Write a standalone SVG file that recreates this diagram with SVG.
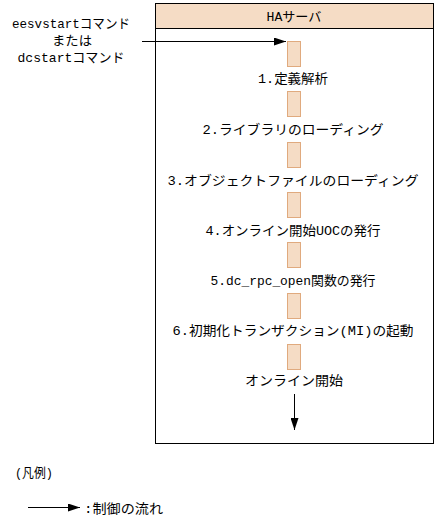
<svg xmlns="http://www.w3.org/2000/svg" width="436" height="524" viewBox="0 0 436 524">
<defs>
<style>
text{font-family:"Liberation Mono","Noto Sans CJK JP",monospace;font-size:13px;fill:#000}
.c{text-anchor:middle}
.box{fill:#fff;stroke:#000;stroke-width:1}
.hdr{fill:#F5DCC5;stroke:#000;stroke-width:1}
.act{fill:#F5DCC5;stroke:#E0AA7E;stroke-width:1}
.ln{stroke:#000;stroke-width:1;fill:none}
</style>
<marker id="ah" markerWidth="12" markerHeight="8" refX="12" refY="4" orient="auto" markerUnits="userSpaceOnUse">
<path d="M0,0 L12,4 L0,8 z" fill="#000"/>
</marker>
</defs>
<g id="server">
<rect class="box" x="155.5" y="3.5" width="278" height="440"/>
<rect class="hdr" x="155.5" y="3.5" width="278" height="25"/>
<text class="c" x="294" y="21" textLength="55" lengthAdjust="spacingAndGlyphs">HAサーバ</text>
</g>
<g id="cmd">
<text class="c" x="71" y="28" textLength="118" lengthAdjust="spacingAndGlyphs">eesvstartコマンド</text>
<text class="c" x="72" y="45" textLength="40" lengthAdjust="spacingAndGlyphs">または</text>
<text class="c" x="71" y="62" textLength="107" lengthAdjust="spacingAndGlyphs">dcstartコマンド</text>
</g>
<g id="step1"><rect class="act" x="287.5" y="41.5" width="13" height="25"/><text class="c" x="293" y="83" textLength="70" lengthAdjust="spacingAndGlyphs">1.定義解析</text></g>
<g id="step2"><rect class="act" x="287.5" y="91.5" width="13" height="25"/><text class="c" x="293" y="134" textLength="181" lengthAdjust="spacingAndGlyphs">2.ライブラリのローディング</text></g>
<g id="step3"><rect class="act" x="287.5" y="142.5" width="13" height="25"/><text class="c" x="293" y="185" textLength="251" lengthAdjust="spacingAndGlyphs">3.オブジェクトファイルのローディング</text></g>
<g id="step4"><rect class="act" x="287.5" y="192.5" width="13" height="25"/><text class="c" x="293" y="235" textLength="175" lengthAdjust="spacingAndGlyphs">4.オンライン開始UOCの発行</text></g>
<g id="step5"><rect class="act" x="287.5" y="242.5" width="13" height="25"/><text class="c" x="293" y="285" textLength="165" lengthAdjust="spacingAndGlyphs">5.dc_rpc_open関数の発行</text></g>
<g id="step6"><rect class="act" x="287.5" y="293.5" width="13" height="25"/><text class="c" x="293" y="335" textLength="241" lengthAdjust="spacingAndGlyphs">6.初期化トランザクション(MI)の起動</text></g>
<g id="step7"><rect class="act" x="287.5" y="344.5" width="13" height="25"/><text class="c" x="294" y="385" textLength="98" lengthAdjust="spacingAndGlyphs">オンライン開始</text></g>
<g id="connectors">
<line class="ln" x1="142" y1="41.5" x2="286" y2="41.5" marker-end="url(#ah)"/>
<line class="ln" x1="294.5" y1="394" x2="294.5" y2="430" marker-end="url(#ah)"/>
</g>
<g id="legend">
<text x="15" y="477" textLength="38" lengthAdjust="spacingAndGlyphs">(凡例)</text>
<line class="ln" x1="28" y1="507.5" x2="80" y2="507.5" marker-end="url(#ah)"/>
<text x="84" y="513" textLength="79" lengthAdjust="spacingAndGlyphs">:制御の流れ</text>
</g>
</svg>
